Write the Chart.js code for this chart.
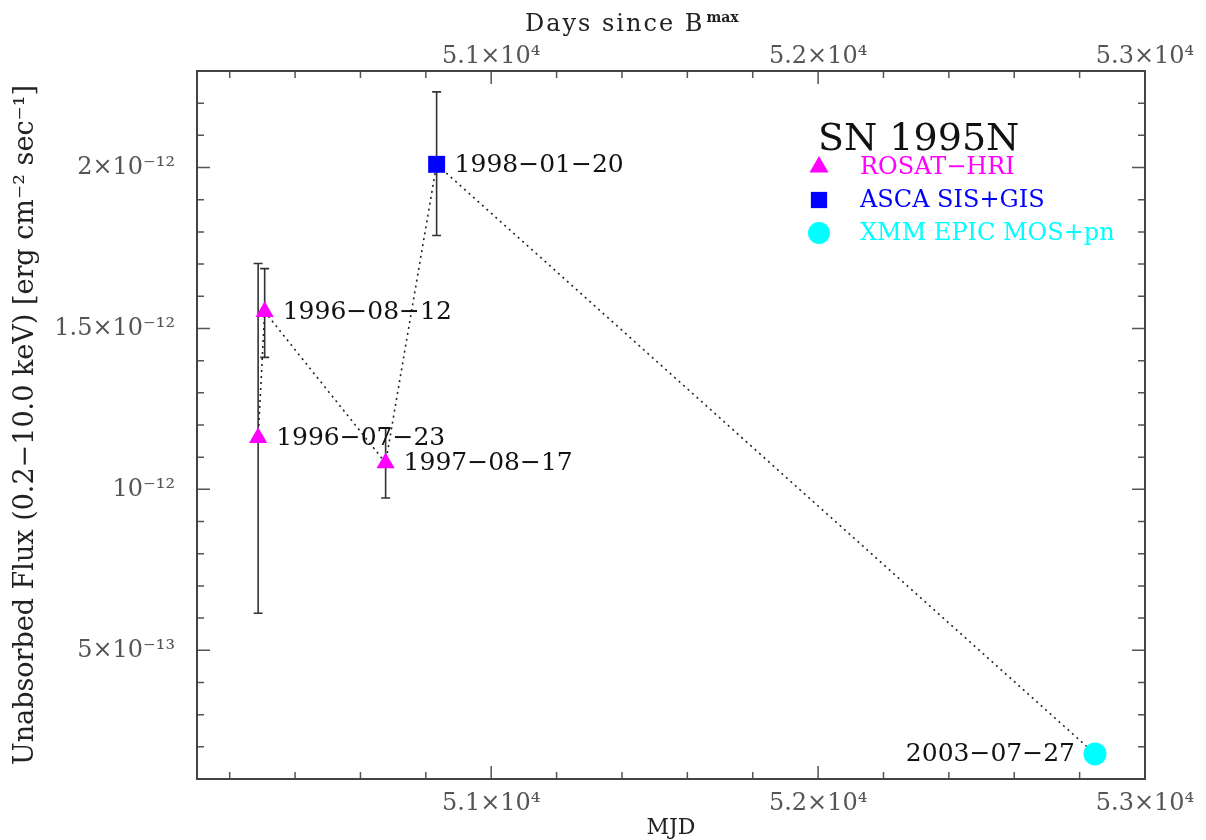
<!DOCTYPE html>
<html><head><meta charset="utf-8">
<script src="https://cdn.jsdelivr.net/npm/chart.js@4/dist/chart.umd.min.js"></script>
<style>html,body{margin:0;padding:0;background:#fff;}canvas{display:block;}</style>
</head><body>
<canvas id="c" width="1206" height="840"></canvas>
<script>
// ---- data ----
const obsDates = ['1996−07−23', '1996−08−12', '1997−08−17', '1998−01−20', '2003−07−27'];
const obsMJD = [50287, 50307, 50677, 50833, 52847];
const obsFlux = [1.160e-12, 1.552e-12, 1.082e-12, 2.010e-12, 0.178e-12];
const fluxLow = [0.615e-12, 1.410e-12, 0.973e-12, 1.789e-12, null];
const fluxHigh = [1.702e-12, 1.686e-12, 1.190e-12, 2.235e-12, null];
const obsInstrument = ['ROSAT', 'ROSAT', 'ROSAT', 'ASCA', 'XMM'];
const labelSide = ['right', 'right', 'right', 'right', 'left'];
const instruments = ['ROSAT', 'ASCA', 'XMM'];
const instrumentLabels = ['ROSAT−HRI', 'ASCA SIS+GIS', 'XMM EPIC MOS+pn'];
const xTickValues = [51000, 52000, 53000];
const xTickLabels = ['5.1×10⁴', '5.2×10⁴', '5.3×10⁴'];
const yTickValues = [5e-13, 1e-12, 1.5e-12, 2e-12];
const yTickLabels = ['5×10⁻¹³', '10⁻¹²', '1.5×10⁻¹²', '2×10⁻¹²'];
const legendTitle = 'SN 1995N';
const xTitle = 'MJD';
const topTitle = 'Days since B';
const topTitleSup = 'max';
const yTitle = 'Unabsorbed Flux (0.2−10.0 keV) [erg cm⁻² sec⁻¹]';

// ---- styles ----
const F = '"DejaVu Serif", "Liberation Serif", serif';
const style = {
  ROSAT: {color: '#ff00ff', shape: 'triangle', r: 10.5, lr: 11},
  ASCA:  {color: '#0000ff', shape: 'rect', r: 12, lr: 11.5},
  XMM:   {color: '#00ffff', shape: 'circle', r: 11.5, lr: 11}
};
const X_MIN = 50100, X_MAX = 53000, Y_MIN = 1e-13, Y_MAX = 2.3e-12;

function minorX() { const a = []; for (let v = 50200; v <= 53000; v += 200) a.push(v); return a; }
function minorY() { const a = []; for (let k = 1; k <= 23; k++) a.push(k * 1e-13); return a; }
function xLabel(v) { const i = xTickValues.findIndex(t => Math.abs(t - v) < 1e-6); return i < 0 ? '' : xTickLabels[i]; }
function yLabel(v) { const i = yTickValues.findIndex(t => Math.abs(t - v) < 1e-17); return i < 0 ? '' : yTickLabels[i]; }
function isMajorX(v) { return Math.abs(v / 1000 - Math.round(v / 1000)) < 1e-6; }
function isMajorY(v) { const k = Math.round(v / 1e-13); return k % 5 === 0; }

const datasets = [{
  label: 'path',
  data: obsMJD.map((m, i) => ({x: m, y: obsFlux[i]})),
  showLine: true, borderColor: '#222', borderWidth: 1.6, borderDash: [2, 4],
  pointRadius: 0, tension: 0, order: 5
}];
instruments.forEach(ins => {
  const s = style[ins];
  datasets.push({
    label: ins,
    data: obsMJD.map((m, i) => obsInstrument[i] === ins ? {x: m, y: obsFlux[i]} : null).filter(p => p),
    pointStyle: s.shape, pointRadius: s.r, backgroundColor: s.color, borderWidth: 0,
    showLine: false, order: 1
  });
});

function drawMarker(ctx, shape, x, y, r, color) {
  ctx.fillStyle = color; ctx.beginPath();
  if (shape === 'triangle') {
    ctx.moveTo(x, y - r);
    ctx.lineTo(x + r * Math.sin(2 * Math.PI / 3), y + r / 2);
    ctx.lineTo(x - r * Math.sin(2 * Math.PI / 3), y + r / 2);
    ctx.closePath();
  } else if (shape === 'rect') {
    const h = r * Math.SQRT1_2; ctx.rect(x - h, y - h, 2 * h, 2 * h);
  } else { ctx.arc(x, y, r, 0, Math.PI * 2); }
  ctx.fill();
}

const decor = {
  id: 'decor',
  beforeDatasetsDraw(chart) {
    const {ctx, scales: {x, y}} = chart;
    ctx.save(); ctx.strokeStyle = '#333'; ctx.lineWidth = 1.6;
    obsMJD.forEach((m, i) => {
      if (fluxLow[i] == null) return;
      const px = x.getPixelForValue(m), y1 = y.getPixelForValue(fluxLow[i]), y2 = y.getPixelForValue(fluxHigh[i]);
      ctx.beginPath();
      ctx.moveTo(px, y1); ctx.lineTo(px, y2);
      ctx.moveTo(px - 4.5, y1); ctx.lineTo(px + 4.5, y1);
      ctx.moveTo(px - 4.5, y2); ctx.lineTo(px + 4.5, y2);
      ctx.stroke();
    });
    ctx.restore();
  },
  afterDatasetsDraw(chart) {
    const {ctx, scales: {x, y}} = chart;
    ctx.save(); ctx.font = '25px ' + F; ctx.fillStyle = '#111'; ctx.textBaseline = 'middle';
    obsMJD.forEach((m, i) => {
      const px = x.getPixelForValue(m), py = y.getPixelForValue(obsFlux[i]);
      if (labelSide[i] === 'right') { ctx.textAlign = 'left'; ctx.fillText(obsDates[i], px + 18, py + 1); }
      else { ctx.textAlign = 'right'; ctx.fillText(obsDates[i], px - 20, py + 1); }
    });
    ctx.restore();
  },
  afterDraw(chart) {
    const {ctx, chartArea: a, scales: {x, y}} = chart;
    ctx.save();
    // inward ticks
    ctx.strokeStyle = '#555'; ctx.lineWidth = 1.5; ctx.beginPath();
    x.ticks.forEach(t => {
      const px = x.getPixelForValue(t.value), L = isMajorX(t.value) ? 13 : 7;
      ctx.moveTo(px, a.bottom); ctx.lineTo(px, a.bottom - L);
      ctx.moveTo(px, a.top); ctx.lineTo(px, a.top + L);
    });
    y.ticks.forEach(t => {
      const py = y.getPixelForValue(t.value), L = isMajorY(t.value) ? 13 : 7;
      ctx.moveTo(a.left, py); ctx.lineTo(a.left + L, py);
      ctx.moveTo(a.right, py); ctx.lineTo(a.right - L, py);
    });
    ctx.stroke();
    // frame
    ctx.strokeStyle = '#444'; ctx.lineWidth = 2;
    ctx.strokeRect(a.left, a.top, a.right - a.left, a.bottom - a.top);
    // top title
    ctx.fillStyle = '#222'; ctx.textBaseline = 'alphabetic'; ctx.textAlign = 'left';
    ctx.letterSpacing = '2px';
    ctx.font = '24px ' + F;
    const w1 = ctx.measureText(topTitle).width;
    ctx.font = 'bold 14px ' + F;
    ctx.letterSpacing = '0px';
    const w2 = ctx.measureText(topTitleSup).width;
    const x0 = 525;
    ctx.letterSpacing = '2px';
    ctx.font = '24px ' + F; ctx.fillText(topTitle, x0, 31);
    ctx.letterSpacing = '0px';
    ctx.font = 'bold 14px ' + F; ctx.fillText(topTitleSup, x0 + w1 + 2, 22);
    // legend
    ctx.font = '38px ' + F; ctx.fillStyle = '#111';
    ctx.fillText(legendTitle, 818, 150);
    const ly = [167, 200, 233];
    instruments.forEach((ins, i) => {
      const s = style[ins];
      drawMarker(ctx, s.shape, 819, ly[i], s.lr, s.color);
      ctx.font = '24px ' + F; ctx.fillStyle = s.color; ctx.textBaseline = 'middle';
      ctx.fillText(instrumentLabels[i], 860, ly[i] + 1);
      ctx.textBaseline = 'alphabetic';
    });
    ctx.restore();
  }
};

new Chart(document.getElementById('c'), {
  type: 'scatter',
  data: {datasets},
  plugins: [decor],
  options: {
    responsive: false, animation: false, devicePixelRatio: 1, events: [],
    layout: {padding: {left: 0, right: 61, top: 0, bottom: 0}},
    plugins: {legend: {display: false}, tooltip: {enabled: false}},
    scales: {
      x: {
        type: 'linear', position: 'bottom', min: X_MIN, max: X_MAX,
        afterBuildTicks: s => { s.ticks = minorX().map(v => ({value: v})); },
        afterFit: s => { s.height = 61; },
        grid: {display: false}, border: {display: false},
        ticks: {autoSkip: false, maxRotation: 0, padding: 2, color: '#555', font: {family: F, size: 24}, callback: v => xLabel(v)},
        title: {display: true, text: xTitle, color: '#222', font: {family: F, size: 22, lineHeight: 1}, padding: {top: 0, bottom: 1}}
      },
      x2: {
        type: 'linear', position: 'top', min: X_MIN, max: X_MAX,
        afterBuildTicks: s => { s.ticks = minorX().map(v => ({value: v})); },
        afterFit: s => { s.height = 71; },
        grid: {display: false}, border: {display: false},
        ticks: {autoSkip: false, maxRotation: 0, padding: -8, color: '#555', font: {family: F, size: 24}, callback: v => xLabel(v)}
      },
      y: {
        type: 'linear', position: 'left', min: Y_MIN, max: Y_MAX,
        afterBuildTicks: s => { s.ticks = minorY().map(v => ({value: v})); },
        afterFit: s => { s.width = 197; },
        grid: {display: false}, border: {display: false},
        ticks: {autoSkip: false, padding: 14, color: '#555', font: {family: F, size: 24}, callback: v => yLabel(v)},
        title: {display: true, text: yTitle, color: '#222', font: {family: F, size: 27}, padding: {top: 10, bottom: 0}}
      }
    }
  }
});
</script>
</body></html>
